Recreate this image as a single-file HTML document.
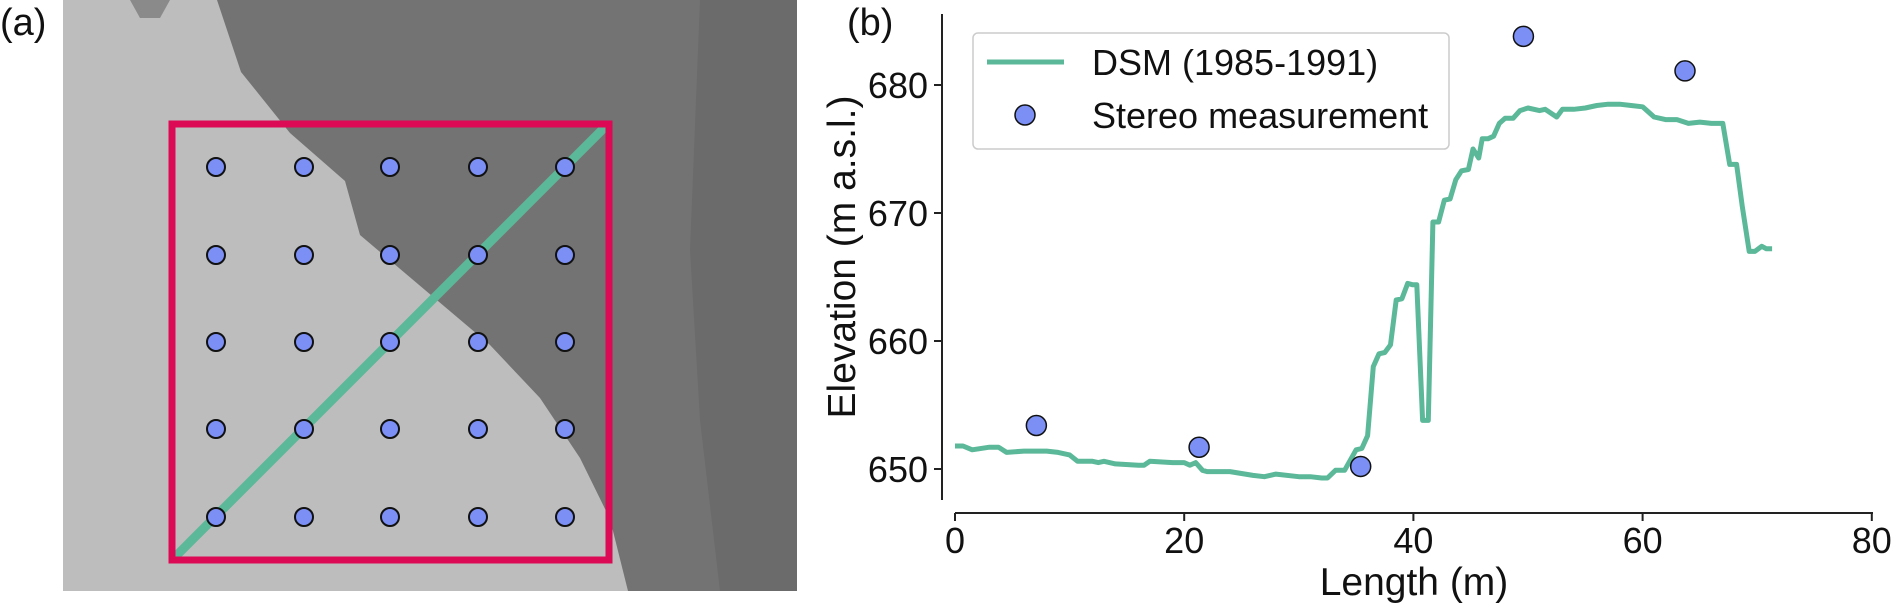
<!DOCTYPE html>
<html><head><meta charset="utf-8"><style>
body{margin:0;background:#fff;}
svg{display:block;font-family:"Liberation Sans",Arial,sans-serif;}
</style></head><body>
<svg width="1892" height="604" viewBox="0 0 1892 604">
  <!-- Panel (a) -->
  <text x="0" y="35" font-size="38" fill="#111">(a)</text>
  <g>
    <rect x="63" y="0" width="734" height="591" fill="#bdbdbd"/>
    <polygon points="217,0 241,72 290,133 345,181 360,235 425,290 490,345 540,398 580,458 610,519 628,591 797,591 797,0" fill="#737373"/>
    <polygon points="130,0 170,0 160,18 140,18" fill="#8a8a8a"/>
    <polygon points="700,0 797,0 797,591 720,591 700,420 690,250" fill="#666" opacity="0.6"/>
  </g>
  <line x1="174" y1="558" x2="606" y2="126" stroke="#5bb899" stroke-width="9"/>
  <rect x="172" y="124" width="437" height="436" fill="none" stroke="#dc0a55" stroke-width="7"/>
  <g id="grid"></g>

  <!-- Panel (b) -->
  <text x="847" y="35" font-size="38" fill="#111">(b)</text>
  <line x1="942" y1="14" x2="942" y2="500" stroke="#222" stroke-width="2"/>
  <line x1="955" y1="513" x2="1873" y2="513" stroke="#222" stroke-width="2"/>
  <g id="yticks"></g>
  <g id="xticks"></g>
  <text x="0" y="0" font-size="39" fill="#111" text-anchor="middle" transform="translate(855,257) rotate(-90)">Elevation (m a.s.l.)</text>
  <text x="1414" y="595" font-size="39" fill="#111" text-anchor="middle">Length (m)</text>
  <path id="dsm" fill="none" stroke="#5bb899" stroke-width="5" stroke-linejoin="round"/>
  <g id="stereo"></g>

  <g>
    <rect x="973" y="33" width="476" height="116" rx="5" fill="#fff" fill-opacity="0.8" stroke="#ccc" stroke-width="1.5"/>
    <line x1="987" y1="62" x2="1064" y2="62" stroke="#5bb899" stroke-width="5"/>
    <text x="1092" y="75" font-size="36" fill="#111">DSM (1985-1991)</text>
    <circle cx="1025" cy="115" r="10" fill="#7b8ff5" stroke="#111" stroke-width="1.5"/>
    <text x="1092" y="128" font-size="36" fill="#111">Stereo measurement</text>
  </g>
</svg>
<script>
const dsmX=[0,0.7,1.5,3,3.8,4.5,6,8,9,10,10.7,12,12.5,13,14,16,16.5,17,19,20,20.5,21,21.6,22,24,26,27,28,30,31,32,32.5,33.2,34,35,35.5,36,36.5,37,37.5,38,38.5,39,39.5,39.9,40.3,40.8,41.3,41.7,42.2,42.7,43.2,43.7,44.2,44.8,45.2,45.7,46,46.5,47,47.5,48,48.7,49.3,50,51,51.5,52.5,53,54,55,56,57,58,59,60,61,62,63,64,65,66,67,67.6,68.2,68.7,69.3,69.8,70.4,70.8,71.3];
const dsmY=[651.8,651.8,651.5,651.7,651.7,651.3,651.4,651.4,651.3,651.1,650.6,650.6,650.5,650.6,650.4,650.3,650.3,650.6,650.5,650.5,650.3,650.5,649.9,649.8,649.8,649.5,649.4,649.6,649.4,649.4,649.3,649.3,649.9,649.9,651.5,651.6,652.6,658.0,659.0,659.1,659.7,663.2,663.3,664.5,664.4,664.4,653.8,653.8,669.3,669.3,671.0,671.1,672.6,673.3,673.4,675.0,674.3,675.8,675.8,676.0,677.0,677.4,677.4,678.0,678.2,678.0,678.1,677.5,678.1,678.1,678.2,678.4,678.5,678.5,678.4,678.3,677.5,677.3,677.3,677.0,677.1,677.0,677.0,673.8,673.8,670.5,667.0,667.0,667.4,667.2,667.2];
const stereoX=[7.1,21.3,35.4,49.6,63.7];
const stereoY=[653.4,651.7,650.2,683.8,681.1];
const yTicks=[650,660,670,680];
const xTicks=[0,20,40,60,80];
const gridCols=[216,304,390,478,565];
const gridRows=[167,255,342,429,517];
const NS='http://www.w3.org/2000/svg';
function sx(v){return 955+v*11.46;}
function sy(v){return 469-(v-650)*12.8;}
function mk(tag,attrs,parent){const e=document.createElementNS(NS,tag);for(const k in attrs)e.setAttribute(k,attrs[k]);parent.appendChild(e);return e;}
let d='';
for(let i=0;i<dsmX.length;i++){d+=(i?'L':'M')+sx(dsmX[i]).toFixed(1)+','+sy(dsmY[i]).toFixed(1);}
document.getElementById('dsm').setAttribute('d',d);
const st=document.getElementById('stereo');
for(let i=0;i<stereoX.length;i++){
  const c=mk('circle',{cx:sx(stereoX[i]),cy:sy(stereoY[i]),r:10,fill:'#7b8ff5',stroke:'#111','stroke-width':1.5},st);
  
  
}
const yt=document.getElementById('yticks');
yTicks.forEach(v=>{
  const l=mk('line',{x1:934,x2:942,y1:sy(v),y2:sy(v),stroke:'#222','stroke-width':2},yt);
  
  
  const t=mk('text',{x:928,y:sy(v)+13,'font-size':36,'text-anchor':'end',fill:'#111'},yt);
  t.textContent=v;
  
  
});
const xt=document.getElementById('xticks');
xTicks.forEach(v=>{
  const l=mk('line',{x1:sx(v),x2:sx(v),y1:513,y2:521,stroke:'#222','stroke-width':2},xt);
  
  
  const t=mk('text',{x:sx(v),y:553,'font-size':36,'text-anchor':'middle',fill:'#111'},xt);
  t.textContent=v;
  
  
});
const g=document.getElementById('grid');
gridRows.forEach(r=>gridCols.forEach(c=>{
  const e=mk('circle',{cx:c,cy:r,r:9,fill:'#7b8ff5',stroke:'#111','stroke-width':2},g);
  
  
}));
</script>
</body></html>
